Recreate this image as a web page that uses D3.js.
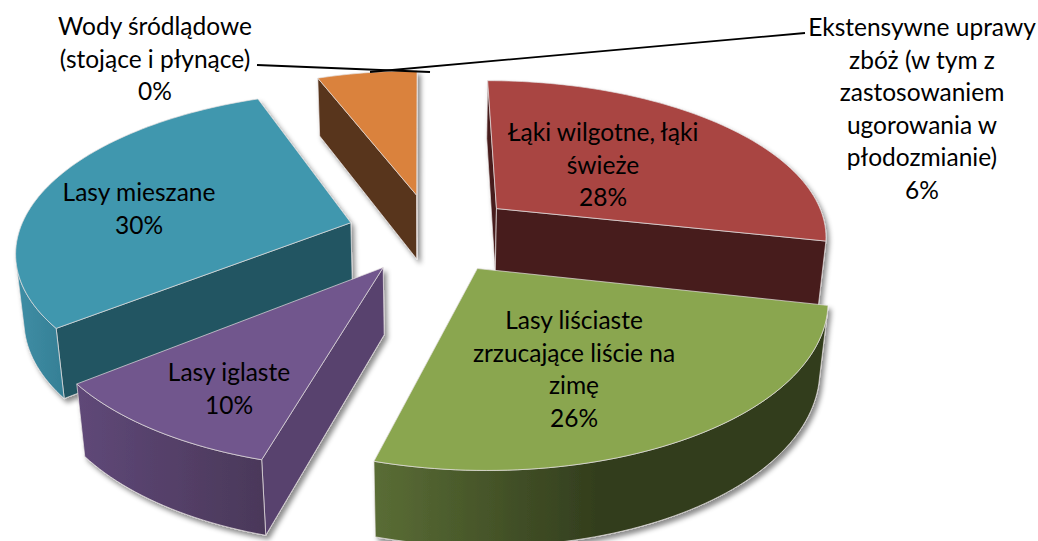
<!DOCTYPE html>
<html><head><meta charset="utf-8">
<script src="https://cdn.jsdelivr.net/npm/d3@7/dist/d3.min.js"></script>
<style>html,body{margin:0;padding:0;background:#fff}svg{display:block}text{font-family:Lato,"Open Sans",sans-serif;font-size:24.5px;fill:#000}</style>
</head><body><svg id="c" width="1038" height="541"></svg>
<script>
// Data (printed labels are the rounded percentages)
const categories = ["Łąki wilgotne, łąki świeże","Lasy liściaste zrzucające liście na zimę","Lasy iglaste","Lasy mieszane","Ekstensywne uprawy zbóż (w tym z zastosowaniem ugorowania w płodozmianie)","Wody śródlądowe (stojące i płynące)"];
const values = [28.4,26.0,9.9,29.8,5.8,0.1];
const labelLines = [
  ["Łąki wilgotne, łąki","świeże","28%"],
  ["Lasy liściaste","zrzucające liście na","zimę","26%"],
  ["Lasy iglaste","10%"],
  ["Lasy mieszane","30%"],
  ["Ekstensywne uprawy","zbóż (w tym z","zastosowaniem","ugorowania w","płodozmianie)","6%"],
  ["Wody śródlądowe","(stojące i płynące)","0%"]
];
// Styles
const topColors  = ["#A94543","#8AA64F","#71578D","#4097AE","#DA823C"];
const radialColors = ["#461C1B","#586A34","#58436E","#235562","#58341A"];
const outerDark  = ["#3E1817","#323D1D","#4A3859","#357F95","#4A2C14"];
const outerLight = ["#4A1D1C","#5A6D35","#5F4878","#3F8EA5","#58341A"];
const labelAnchors = [[603,141],[574,329],[229,381],[139,201],[922,36],[155,35]];
const lineStep = 32.6;

const svg = d3.select("#c");
const defs = svg.append("defs");
const f = defs.append("filter").attr("id","sh").attr("x","-10%").attr("y","-10%").attr("width","125%").attr("height","125%");
f.append("feDropShadow").attr("dx",3).attr("dy",4).attr("stdDeviation",2.5).attr("flood-color","#000").attr("flood-opacity",0.45);

// Projection
const R=332, H=76, explode=85, cx=432, cy=233;
const tilt=Math.asin(0.47), dist=1800;
const proj=(X,Y,Z)=>{
  const yv=Z*Math.cos(tilt)-Y*Math.sin(tilt), zv=Y*Math.cos(tilt)+Z*Math.sin(tilt);
  const s=dist/(dist-zv);
  return [cx+X*s, cy-yv*s];
};
const arcs=d3.pie().sort(null).value(d=>d).startAngle(0).endAngle(2*Math.PI)(values);
const line=d3.line().curve(d3.curveLinearClosed);
const order=[4,0,3,2,1];

order.forEach(i=>{
  const a=arcs[i];
  const mid=(a.startAngle+a.endAngle)/2;
  const ox=explode*Math.sin(mid), oy=-explode*Math.cos(mid);
  const P=(ang,r,z)=>proj(ox+r*Math.sin(ang), oy-r*Math.cos(ang), z);
  const n=Math.max(8,Math.round((a.endAngle-a.startAngle)*40));
  const angs=d3.range(n+1).map(k=>a.startAngle+(a.endAngle-a.startAngle)*k/n);
  const g=svg.append("g").attr("filter","url(#sh)");
  const face=(pts,fill,stroke)=>g.append("path").attr("d",line(pts)).attr("fill",fill)
      .attr("stroke",stroke||fill).attr("stroke-width",stroke?0.7:0.5).attr("stroke-linejoin","round");
  const camX=0, camY=dist*Math.cos(tilt);
  const wall=(ang)=>[P(ang,0,0),P(ang,R,0),P(ang,R,-H),P(ang,0,-H)];
  [a.startAngle,a.endAngle].forEach(ang=>{
    const w=wall(ang);
    const inner=P(mid,R*0.5,0), e=[w[1][0]-w[0][0],w[1][1]-w[0][1]];
    const side=e[0]*(inner[1]-w[0][1])-e[1]*(inner[0]-w[0][0]);
    const down=e[0]*(w[3][1]-w[0][1])-e[1]*(w[3][0]-w[0][0]);
    if(side*down<0) face(w,radialColors[i],"#e9e4e4");
  });
  const front=angs.filter(t=>{
    const nx=Math.sin(t), ny=-Math.cos(t);
    const px=ox+R*nx, py=oy+R*ny;
    return nx*(camX-px)+ny*(camY-py)>0;
  });
  if(front.length>1){
    const topPts=front.map(t=>P(t,R,0)), botPts=front.map(t=>P(t,R,-H)).reverse();
    const x=d3.extent(topPts.concat(botPts),p=>p[0]);
    const id="og"+i;
    const lg=defs.append("linearGradient").attr("id",id).attr("gradientUnits","userSpaceOnUse")
      .attr("x1",x[0]).attr("x2",i===1?x[0]+(x[1]-x[0])*0.5:x[1]).attr("y1",0).attr("y2",0);
    lg.append("stop").attr("offset",0).attr("stop-color",outerLight[i]);
    lg.append("stop").attr("offset",1).attr("stop-color",outerDark[i]);
    face(topPts.concat(botPts),`url(#${id})`,"#e9e4e4");
  }
  face([P(a.startAngle,0,0)].concat(angs.map(t=>P(t,R,0))),topColors[i],"#e4e0e0");
});

const leaders=[[[257,65],[430,72]],[[805,33],[370,72]]];
svg.selectAll("path.leader").data(leaders).join("path").attr("class","leader")
  .attr("d",d3.line()).attr("fill","none").attr("stroke","#000").attr("stroke-width",1.8);

labelLines.forEach((ls,i)=>{
  const t=svg.append("text").attr("text-anchor","middle");
  ls.forEach((s,k)=>t.append("tspan").attr("x",labelAnchors[i][0]).attr("y",labelAnchors[i][1]+k*lineStep).text(s));
});
</script></body></html>
